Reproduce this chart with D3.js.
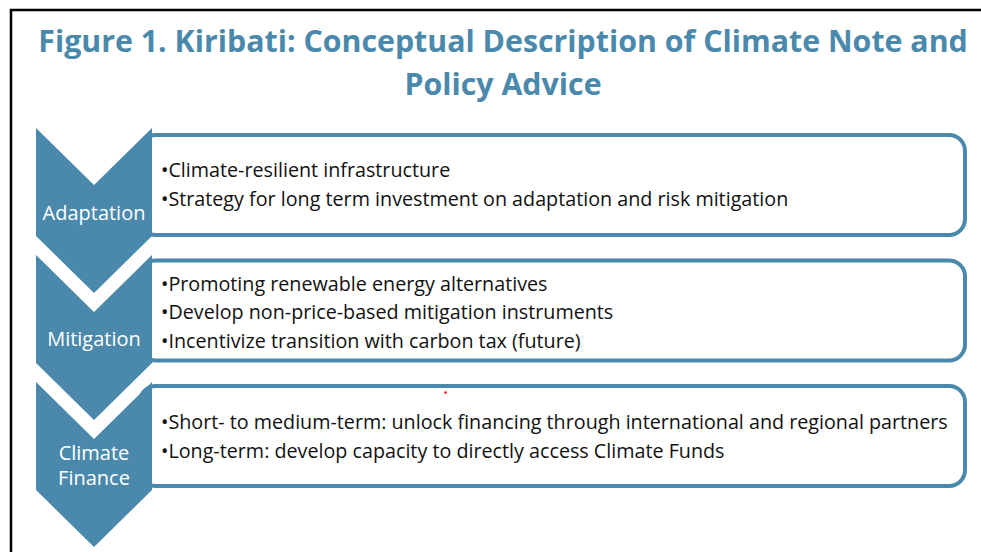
<!DOCTYPE html>
<html>
<head>
<meta charset="utf-8">
<script src="https://cdn.jsdelivr.net/npm/d3@7"></script>
<style>
  html, body { margin: 0; padding: 0; background: #fff; }
  svg { display: block; }
  text { font-family: "Open Sans", "Noto Sans", sans-serif; }
</style>
</head>
<body>
<div id="chart"></div>
<script>
var titleLines = ["Figure 1. Kiribati: Conceptual Description of Climate Note and", "Policy Advice"];
var stages = ["Adaptation", "Mitigation", "Climate Finance"];
var adaptationItems = ["Climate-resilient infrastructure", "Strategy for long term investment on adaptation and risk mitigation"];
var mitigationItems = ["Promoting renewable energy alternatives", "Develop non-price-based mitigation instruments", "Incentivize transition with carbon tax (future)"];
var financeItems = ["Short- to medium-term: unlock financing through international and regional partners", "Long-term: develop capacity to directly access Climate Funds"];
var items = [adaptationItems, mitigationItems, financeItems];

var W = 981, H = 552, blue = "#4a89ab";

var svg = d3.select("#chart").append("svg").attr("width", W).attr("height", H);

// frame (only top and left edge visible)
svg.append("path").attr("d", "M11,552V10H981").attr("fill", "none").attr("stroke", "#000").attr("stroke-width", 2.5);

// title
var title = svg.append("g");
title.selectAll("text").data(titleLines).enter().append("text")
  .attr("x", 503).attr("y", function(d, i) { return 52 + i * 43; })
  .attr("text-anchor", "middle").attr("fill", blue)
  .style("font-weight", "bold").style("font-size", "30px")
  .text(function(d) { return d; });
// fit first title line to ~930px
var t0 = title.select("text").node().getComputedTextLength();
title.selectAll("text").style("font-size", (30 * 930 / t0) + "px");

var row = d3.scaleLinear().domain([0, 1]).range([128, 255]);
var boxRow = d3.scaleLinear().domain([0, 1]).range([133, 258.5]);
var cx = d3.scaleLinear().domain([0, 1]).range([36, 152]);

var g = svg.selectAll("g.row").data(stages).enter().append("g").attr("class", "row");

// content boxes
g.append("rect")
  .attr("x", 140).attr("y", function(d, i) { return boxRow(i) + 2; })
  .attr("width", 825).attr("height", 100)
  .attr("rx", 16).attr("fill", "#fff").attr("stroke", blue).attr("stroke-width", 4);

// chevrons
g.append("path")
  .attr("fill", blue)
  .attr("d", function(d, i) {
    var y = row(i), x0 = cx(0), x1 = cx(1), xm = cx(0.5), body = 108, notch = 57;
    return "M" + x0 + "," + y + "L" + xm + "," + (y + notch) + "L" + x1 + "," + y +
      "L" + x1 + "," + (y + body) + "L" + xm + "," + (y + body + notch) + "L" + x0 + "," + (y + body) + "Z";
  });

// chevron labels
var labelBase = [220, 346, 460];
g.append("text")
  .attr("x", cx(0.5)).attr("text-anchor", "middle").attr("fill", "#fff")
  .style("font-size", "20px")
  .each(function(d, i) {
    var words = d.split(" ");
    d3.select(this).selectAll("tspan").data(words).enter().append("tspan")
      .attr("x", cx(0.5)).attr("y", function(w, j) { return labelBase[i] + j * 25; })
      .text(function(w) { return w; });
  });

// bullet text
var lineTops = [[177, 206], [291, 319, 348], [429, 458]];
g.each(function(d, i) {
  d3.select(this).selectAll("text.item").data(items[i]).enter().append("text")
    .attr("class", "item")
    .attr("x", 161).attr("y", function(s, j) { return lineTops[i][j]; })
    .attr("fill", "#111").style("font-size", "18px")
    .text(function(s) { return "\u2022" + s; });
});
// fit longest bullet line to ~787px
var longest = d3.max(svg.selectAll("text.item").nodes(), function(n) { return n.getComputedTextLength(); });
svg.selectAll("text.item").style("font-size", (18 * 787 / longest) + "px");

// small red mark
svg.append("circle").attr("cx", 445.5).attr("cy", 392.5).attr("r", 1.2).attr("fill", "#e00");
</script>
</body>
</html>
